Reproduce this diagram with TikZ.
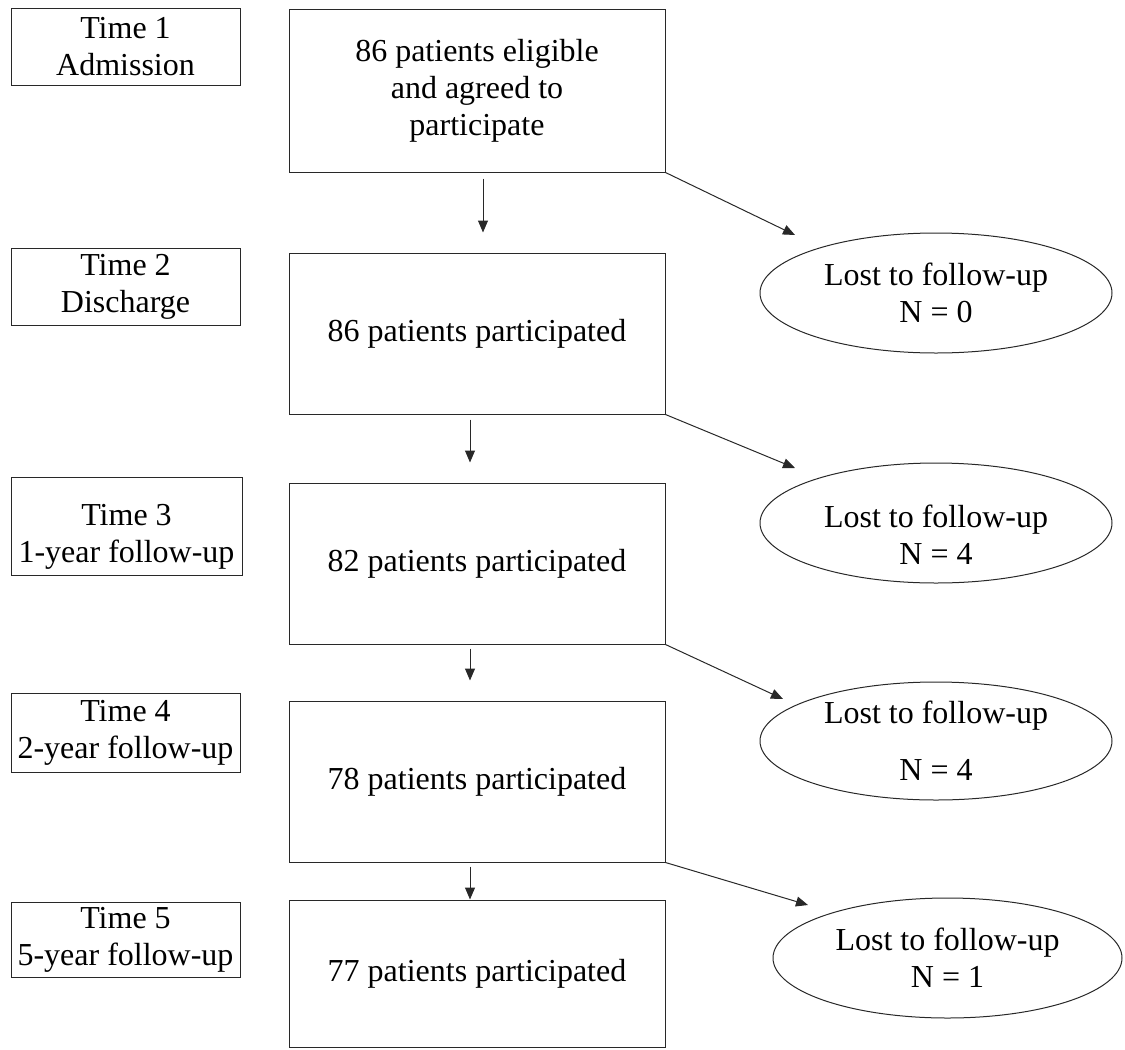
\documentclass[tikz,border=0pt]{standalone}
\usepackage{fontspec}
\setmainfont{Liberation Serif}
\usetikzlibrary{arrows.meta,shapes.geometric}

\begin{document}
\begin{tikzpicture}[x={1pt}, y={-1pt}, font={\fontsize{32}{37}\selectfont},
		timebox/.style={draw, line width={1pt}, color={LINE_GRAY}, text={black}, inner sep={0pt}, align={center}, minimum width={229pt}},
		stagebox/.style={draw, line width={1pt}, color={LINE_GRAY}, text={black}, inner sep={0pt}, align={center}, minimum width={376pt}},
		lostbox/.style={ellipse, draw, line width={1pt}, color={LINE_GRAY}, text={black}, inner sep={0pt}, align={center}, minimum width={352pt}, minimum height={120pt}},
		flow/.style={-{Triangle[length={12pt}, width={10pt}]}, line width={1pt}, color={LINE_GRAY}}]
				\definecolor{LINE_GRAY}{RGB}{40, 40, 40}
				\useasboundingbox (0, 0) rectangle (1125, 1050);
				
				\node[timebox, minimum height={77pt}] (time1) at (125.5, 46.5) {Time 1\\Admission};
				\node[timebox, minimum height={77pt}] (time2) at (125.5, 286.5) {Time 2\\Discharge};
				\node[timebox, minimum width={231pt}, minimum height={98pt}] (time3) at (126.5, 526) {\rule{0pt}{42pt}Time 3\\1-year follow-up};
				\node[timebox, minimum height={79pt}] (time4) at (125.5, 732.5) {Time 4\\2-year follow-up};
				\node[timebox, minimum height={75pt}] (time5) at (125.5, 939.5) {Time 5\\5-year follow-up};
				
				\node[stagebox, minimum height={163pt}] (admit) at (477, 90.5) {86 patients eligible\\and agreed to\\participate};
				\node[stagebox, minimum height={161pt}] (disch) at (477, 333.5) {86 patients participated};
				\node[stagebox, minimum height={161pt}] (year1) at (477, 563.5) {82 patients participated};
				\node[stagebox, minimum height={161pt}] (year2) at (477, 781.5) {78 patients participated};
				\node[stagebox, minimum height={147pt}] (year5) at (477, 973.5) {77 patients participated};
				
				\node[lostbox] (lost1) at (936, 293) {Lost to follow-up\\N = 0};
				\node[lostbox] (lost2) at (936, 523) {\rule{0pt}{46pt}Lost to follow-up\\N = 4};
				\node[lostbox, minimum height={118pt}] (lost3) at (936, 741) {Lost to follow-up\\[20pt]N = 4};
				\node[lostbox, minimum width={349pt}] (lost4) at (947.5, 958) {Lost to follow-up\\N = 1};
				
				\coordinate (lost1tip) at (795, 235);
				\coordinate (lost2tip) at (795, 468);
				\coordinate (lost3tip) at (783, 699);
				\coordinate (lost4tip) at (808, 905);
				
				\draw[flow] ([xshift={6pt}, yshift={-6pt}]admit.south) -- ([xshift={6pt}, yshift={20pt}]disch.north);
				\draw[flow] ([xshift={-7pt}, yshift={-5pt}]disch.south) -- ([xshift={-7pt}, yshift={20pt}]year1.north);
				\draw[flow] ([xshift={-7pt}, yshift={-4pt}]year1.south) -- ([xshift={-7pt}, yshift={20pt}]year2.north);
				\draw[flow] ([xshift={-7pt}, yshift={-4pt}]year2.south) -- ([xshift={-7pt}]year5.north);
				
				\draw[flow] (admit.south east) -- (lost1tip);
				\draw[flow] (disch.south east) -- (lost2tip);
				\draw[flow] (year1.south east) -- (lost3tip);
				\draw[flow] (year2.south east) -- (lost4tip);
				
			\end{tikzpicture}
\end{document}
